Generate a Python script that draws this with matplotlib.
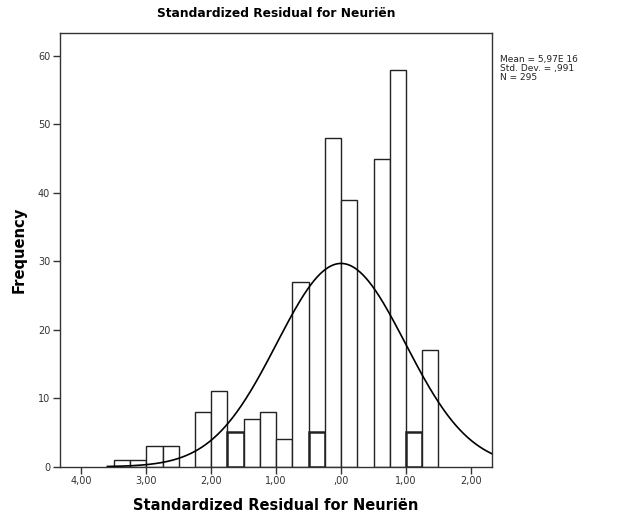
import numpy as np
import matplotlib
matplotlib.use("Agg")
import matplotlib.pyplot as plt

# histogram data (bin left edges, width 0.25)
bin_left = [-3.5, -3.25, -3.0, -2.75, -2.5, -2.25, -2.0, -1.75, -1.5, -1.25,
            -1.0, -0.75, -0.5, -0.25, 0.0, 0.25, 0.5, 0.75, 1.0, 1.25]
counts = [1, 1, 3, 3, 0, 8, 11, 5, 7, 8,
          4, 27, 5, 48, 39, 0, 45, 58, 5, 17]
bin_width = 0.25

# summary stats shown in the chart
mean = 5.97e-16
std_dev = 0.991
n = 295

x_ticks = [-4, -3, -2, -1, 0, 1, 2]
x_tick_labels = ["4,00", "3,00", "2,00", "1,00", ",00", "1,00", "2,00"]
y_ticks = [0, 10, 20, 30, 40, 50, 60]

title = "Standardized Residual for Neuriën"
stats_text = "Mean = 5,97E 16\nStd. Dev. = ,991\nN = 295"

plt.rcParams["font.family"] = ["DejaVu Sans"]

fig = plt.figure(figsize=(6.2, 5.18), dpi=100)
ax = fig.add_axes([0.0968, 0.099, 0.6973, 0.8367])

# bars drawn with a heavier outline in the original
thick = {-1.75, -0.5, 1.0}
for left, c in zip(bin_left, counts):
    if c == 0:
        continue
    lw = 1.8 if left in thick else 1.0
    ax.bar(left, c, width=bin_width, align="edge", facecolor="white",
           edgecolor="#222222", linewidth=lw, zorder=2)

# normal curve from mean / std dev / N
xs = np.linspace(-3.6, 2.4, 400)
ys = n * bin_width / (std_dev * np.sqrt(2 * np.pi)) * np.exp(-(xs - mean) ** 2 / (2 * std_dev ** 2))
ax.plot(xs, ys, color="black", linewidth=1.2, zorder=3)

ax.set_xlim(-4.33, 2.331)
ax.set_ylim(0, 63.3)

ax.set_xticks(x_ticks)
ax.set_xticklabels(x_tick_labels)
ax.set_yticks(y_ticks)
ax.tick_params(axis="both", direction="out", length=5, width=1, color="#333333",
               labelsize=7, labelcolor="#333333", pad=2)
for s in ax.spines.values():
    s.set_color("#333333")
    s.set_linewidth(1)

ax.set_title(title, fontsize=8.8, fontweight="bold", pad=12)
ax.set_xlabel(title, fontsize=10.5, fontweight="bold", labelpad=8)
ax.set_ylabel("Frequency", fontsize=10.6, fontweight="bold", labelpad=8)

fig.text(0.806, 0.893, stats_text, fontsize=6.5, va="top", ha="left",
         linespacing=0.95, color="#222222")

fig.savefig("out.png", dpi=100)
